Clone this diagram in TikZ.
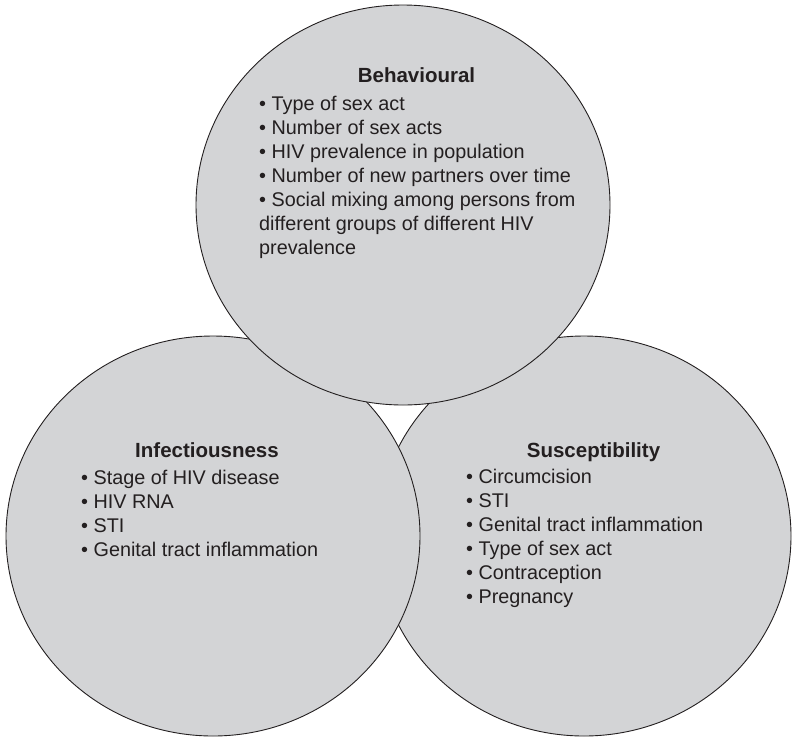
\documentclass[tikz,border=0pt]{standalone}
\usepackage{fontspec}
\setmainfont{Liberation Sans}
\usetikzlibrary{shapes.geometric}
\definecolor{blobfill}{RGB}{211,212,214}
\definecolor{ink}{RGB}{35,31,32}
\begin{document}
\begin{tikzpicture}[x=1pt,y=-1pt,
  blob/.style={ellipse, draw=ink, fill=blobfill, line width=0.9pt, inner sep=0pt,
    minimum width=414pt, minimum height=400pt},
  heading/.style={anchor=base, inner sep=0pt, text=ink,
    font=\fontsize{20.5}{24}\selectfont\bfseries},
  items/.style={anchor=base west, inner sep=0pt, text=ink,
    font=\fontsize{19.8}{24}\selectfont}]
\useasboundingbox (0,0) rectangle (795,737);
% circles (drawing order: right, left, top)
\node[blob] (susc) at (584,536) {};
\node[blob] (infe) at (213,536) {};
\node[blob] (beha) at (403,205) {};
% Behavioural
\node[heading] (behaT) at (416.5,82) {Behavioural};
\node[items] (behaL) at (259,110.7) {\begin{tabular}[t]{@{}l@{}}
• Type of sex act\\
• Number of sex acts\\
• HIV prevalence in population\\
• Number of new partners over time\\
• Social mixing among persons from\\
different groups of different HIV\\
prevalence
\end{tabular}};
% Infectiousness
\node[heading] (infeT) at (207,457) {Infectiousness};
\node[items] (infeL) at (81,484) {\begin{tabular}[t]{@{}l@{}}
• Stage of HIV disease\\
• HIV RNA\\
• STI\\
• Genital tract inflammation
\end{tabular}};
% Susceptibility
\node[heading] (suscT) at (593.5,457) {Susceptibility};
\node[items] (suscL) at (466,483) {\begin{tabular}[t]{@{}l@{}}
• Circumcision\\
• STI\\
• Genital tract inflammation\\
• Type of sex act\\
• Contraception\\
• Pregnancy
\end{tabular}};
\end{tikzpicture}
\end{document}
